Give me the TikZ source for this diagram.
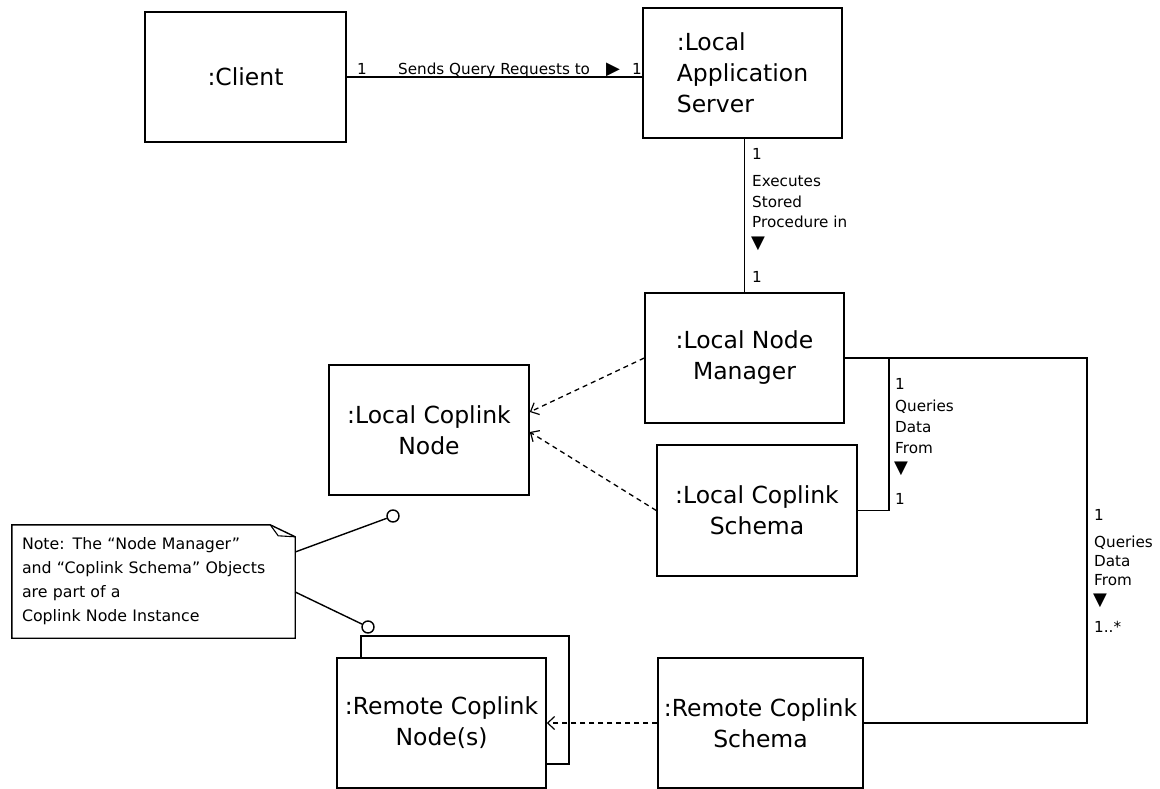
\documentclass[tikz,border=0pt]{standalone}
\usepackage{fontspec}
\setmainfont{DejaVu Sans}
\usetikzlibrary{arrows.meta}
\begin{document}
\begin{tikzpicture}[x=1pt,y=-1pt,
  box/.style={draw, line width=1.5pt, align=center, inner sep=0pt,
    font=\fontsize{23.5}{31}\selectfont},
  lbl/.style={inner sep=0pt, align=left, font=\fontsize{15.2}{20.5}\selectfont},
  tri/.style={inner sep=0pt, font=\fontsize{18}{18}\selectfont},
  assoc/.style={line width=1.4pt},
  dep/.style={line width=1.3pt, dash pattern=on 5pt off 4pt,
    -{Straight Barb[length=7pt,width=13pt,line width=1.2pt]}},
  pin/.style={circle, draw, line width=1.4pt, minimum size=12pt, inner sep=0pt, fill=white}]
\useasboundingbox (0,0) rectangle (1160,789);

% object boxes
\node[box, minimum width=201pt, minimum height=130pt] (client) at (245.5,77) {:Client};
\node[box, minimum width=199pt, minimum height=130pt, align=left] (server) at (742.5,73) {:Local\\Application\\Server};
\node[box, minimum width=199pt, minimum height=130pt] (manager) at (744.5,358) {:Local Node\\Manager};
\node[box, minimum width=200pt, minimum height=130pt] (lnode) at (429,430) {:Local Coplink\\Node};
\node[box, minimum width=200pt, minimum height=131pt] (lschema) at (757,510.5) {:Local Coplink\\Schema};
\node[box, minimum width=208pt, minimum height=128pt] (rnodeb) at (465,700) {};
\node[box, minimum width=209pt, minimum height=130pt, fill=white] (rnode) at (441.5,723) {:Remote Coplink\\Node(s)};
\node[box, minimum width=205pt, minimum height=130pt] (rschema) at (760.5,723) {:Remote Coplink\\Schema};

% note
\node[inner xsep=10pt, inner ysep=0pt, text width=263pt, minimum height=113pt, align=left,
  font=\fontsize{15.8}{24}\selectfont] (note) at (153.5,581.5)
  {Note: The “Node Manager”\\and “Coplink Schema” Objects\\are part of a\\Coplink Node Instance};
\draw[line width=1.4pt, line join=miter] (note.south west) -- (note.north west)
  -- ([xshift=-25pt]note.north east) -- ([yshift=-12pt]note.north east)
  -- (note.south east) -- cycle;
\draw[line width=1.1pt] ([xshift=-25pt]note.north east) -- ([xshift=-17pt,yshift=-11pt]note.north east)
  -- ([yshift=-12pt]note.north east);
\node[pin] (c1) at (393,516) {};
\node[pin] (c2) at (368,627) {};
\draw[assoc] ([yshift=29.5pt]note.east) -- (c1);
\draw[assoc] ([yshift=-10.5pt]note.east) -- (c2);

% bend points
\coordinate (q1) at (889,0);
\coordinate (q2) at (1087,0);

% associations
\draw[assoc] (client.east) -- (client.east -| server.west);
\draw[assoc] (manager.north |- server.south) -- (manager.north);
\draw[assoc] (manager.east) -- (manager.east -| q1) -- (q1 |- lschema.east) -- (lschema.east);
\draw[assoc] (manager.east) -- (manager.east -| q2) -- (q2 |- rschema.east) -- (rschema.east);

% dependencies
\draw[dep] (manager.west) -- ([yshift=18pt]lnode.east);
\draw[dep] (lschema.west) -- ([yshift=-2pt]lnode.east);
\draw[dep] (rschema.west) -- (rnode.east);

% labels: client - server
\node[lbl, anchor=base west] (l1) at (357,75) {1};
\node[lbl, anchor=base west] (l2) at (398,75) {Sends Query Requests to};
\node[tri, anchor=base west] (l2t) at (606,75) {▶};
\node[lbl, anchor=base east] (l3) at (642,75) {1};

% labels: server - manager
\node[lbl, anchor=west] (l4) at (752,154) {1};
\node[lbl, anchor=west] (l5) at (752,202) {Executes\\Stored\\Procedure in};
\node[tri, anchor=west] (l6) at (751,244) {▼};
\node[lbl, anchor=west] (l7) at (752,277) {1};

% labels: manager - local schema
\node[lbl, anchor=west] (l8) at (895,384) {1};
\node[lbl, anchor=west, font=\fontsize{15.2}{21}\selectfont] (l9) at (895,427) {Queries\\Data\\From};
\node[tri, anchor=west] (l10) at (894,469) {▼};
\node[lbl, anchor=west] (l11) at (895,499) {1};

% labels: manager - remote schema
\node[lbl, anchor=west] (l12) at (1094,515) {1};
\node[lbl, anchor=west, font=\fontsize{15.2}{19}\selectfont] (l13) at (1094,561) {Queries\\Data\\From};
\node[tri, anchor=west] (l14) at (1093,601) {▼};
\node[lbl, anchor=west] (l15) at (1094,627) {1..*};
\end{tikzpicture}
\end{document}
